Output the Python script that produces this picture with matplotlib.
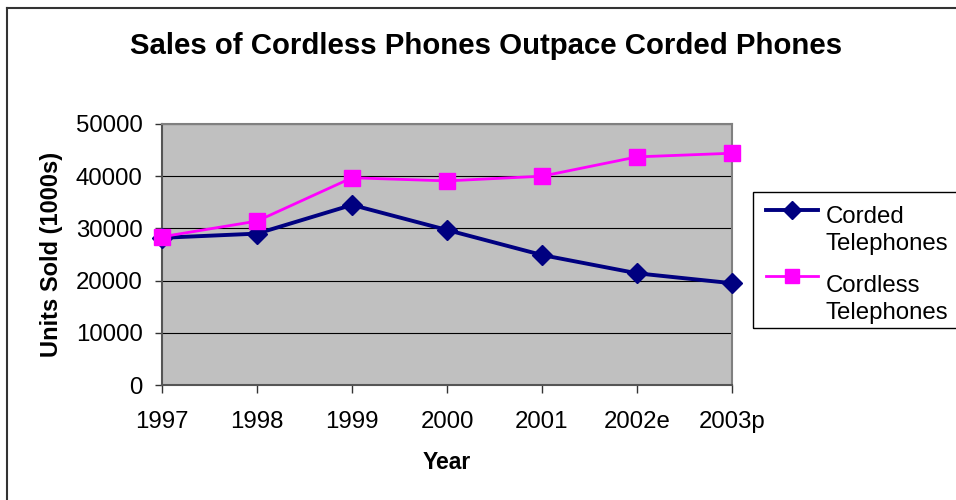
import matplotlib.pyplot as plt
from matplotlib.lines import Line2D
from matplotlib.patches import Rectangle

years = ['1997', '1998', '1999', '2000', '2001', '2002e', '2003p']
corded = [28200, 29000, 34500, 29700, 24900, 21400, 19500]
cordless = [28400, 31400, 39700, 39100, 40000, 43700, 44400]
y_ticks = [0, 10000, 20000, 30000, 40000, 50000]

W, H = 956, 500
plt.rcParams['font.family'] = ['Liberation Sans', 'DejaVu Sans']


def fx(px):
    return px / W


def fy(py):
    return 1 - py / H


fig = plt.figure(figsize=(W / 100, H / 100), dpi=100)

# outer chart border (only left and top edges are inside the picture)
fig.add_artist(Line2D([fx(7), fx(7)], [fy(8), 0], transform=fig.transFigure,
                      color='#333333', lw=1.5))
fig.add_artist(Line2D([fx(7), 1], [fy(8), fy(8)], transform=fig.transFigure,
                      color='#333333', lw=1.5))

ax = fig.add_axes([fx(162), fy(385), 570 / W, 261 / H])
ax.set_facecolor('#C0C0C0')

x = list(range(len(years)))
ax.plot(x, corded, color='#000080', lw=2.8, marker='D', markersize=10,
        zorder=3, clip_on=False)
ax.plot(x, cordless, color='#FF00FF', lw=2.0, marker='s', markersize=11,
        zorder=3, clip_on=False)

ax.set_xlim(0, len(years) - 1)
ax.set_ylim(0, 50000)
ax.set_yticks(y_ticks)
ax.set_xticks(x)
ax.set_xticklabels(years)
ax.yaxis.grid(True, color='black', lw=0.8)
ax.set_axisbelow(True)
ax.tick_params(axis='both', direction='out', length=5.4, width=1,
               color='#333333', labelsize=17.3)
ax.tick_params(axis='x', pad=13.5)
ax.tick_params(axis='y', pad=8.6)
for side in ['top', 'right']:
    ax.spines[side].set_color('#808080')
    ax.spines[side].set_linewidth(1.5)
for side in ['left', 'bottom']:
    ax.spines[side].set_color('#555555')
    ax.spines[side].set_linewidth(1.5)

ax.set_xlabel('Year', fontsize=16.5, fontweight='bold')
ax.xaxis.set_label_coords(0.5, (385 - 451) / 261)
ax.set_ylabel('Units Sold (1000s)', fontsize=17, fontweight='bold')
ax.yaxis.set_label_coords((63 - 162) / 570, 0.5)

fig.text(fx(486), fy(54), 'Sales of Cordless Phones Outpace Corded Phones',
         ha='center', va='baseline', fontsize=21.2, fontweight='bold')

# legend box, drawn by hand so each marker sits on the first text line
fig.add_artist(Rectangle((fx(753), fy(328)), fx(960) - fx(753), fy(192) - fy(328),
                         transform=fig.transFigure, fill=False,
                         edgecolor='black', lw=1))
entries = [
    ('Corded', 'Telephones', '#000080', 'D', 9, 2.8, 210, 223),
    ('Cordless', 'Telephones', '#FF00FF', 's', 10, 2.0, 276, 292),
]
for first, second, color, mk, ms, lw, y_line, y_base in entries:
    fig.add_artist(Line2D([fx(766), fx(792), fx(818)], [fy(y_line)] * 3,
                          transform=fig.transFigure, color=color, lw=lw,
                          marker=mk, markersize=ms, markevery=[1]))
    fig.text(fx(826), fy(y_base), first, ha='left', va='baseline', fontsize=17.3)
    fig.text(fx(826), fy(y_base + 27), second, ha='left', va='baseline',
             fontsize=17.3)

fig.savefig('out.png', dpi=100)
